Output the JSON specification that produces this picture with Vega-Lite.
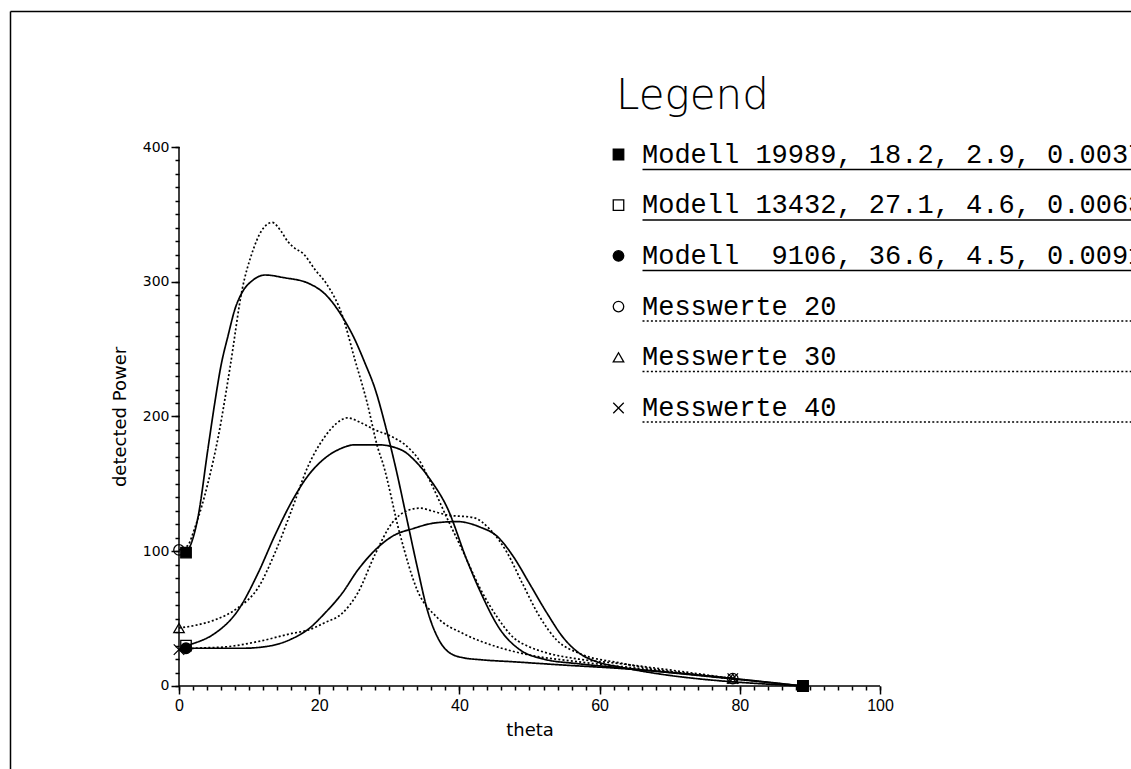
{
  "$schema": "https://vega.github.io/schema/vega-lite/v6.json",
  "width": 1121,
  "height": 758,
  "autosize": {"type": "none"},
  "padding": {"left": 10, "top": 11, "right": 0, "bottom": 0},
  "background": "white",
  "config": {
    "view": {"stroke": null},
    "axis": {"grid": false, "domainColor": "black", "domainWidth": 1.5, "tickColor": "black", "tickWidth": 1.5, "labelColor": "black", "titleColor": "black"}
  },
  "datasets": {
    "curves": [
      {"series": "Modell 19989, 18.2, 2.9, 0.0037", "theta": 1, "power": 99},
      {"series": "Modell 19989, 18.2, 2.9, 0.0037", "theta": 1.6, "power": 104},
      {"series": "Modell 19989, 18.2, 2.9, 0.0037", "theta": 2.7, "power": 125},
      {"series": "Modell 19989, 18.2, 2.9, 0.0037", "theta": 4.1, "power": 175},
      {"series": "Modell 19989, 18.2, 2.9, 0.0037", "theta": 5.1, "power": 210},
      {"series": "Modell 19989, 18.2, 2.9, 0.0037", "theta": 6, "power": 238},
      {"series": "Modell 19989, 18.2, 2.9, 0.0037", "theta": 7, "power": 260},
      {"series": "Modell 19989, 18.2, 2.9, 0.0037", "theta": 8, "power": 280},
      {"series": "Modell 19989, 18.2, 2.9, 0.0037", "theta": 9, "power": 292},
      {"series": "Modell 19989, 18.2, 2.9, 0.0037", "theta": 10.5, "power": 301},
      {"series": "Modell 19989, 18.2, 2.9, 0.0037", "theta": 12.3, "power": 305},
      {"series": "Modell 19989, 18.2, 2.9, 0.0037", "theta": 15, "power": 303},
      {"series": "Modell 19989, 18.2, 2.9, 0.0037", "theta": 18.4, "power": 299},
      {"series": "Modell 19989, 18.2, 2.9, 0.0037", "theta": 21, "power": 290},
      {"series": "Modell 19989, 18.2, 2.9, 0.0037", "theta": 23.3, "power": 274},
      {"series": "Modell 19989, 18.2, 2.9, 0.0037", "theta": 25, "power": 258},
      {"series": "Modell 19989, 18.2, 2.9, 0.0037", "theta": 26.5, "power": 240},
      {"series": "Modell 19989, 18.2, 2.9, 0.0037", "theta": 28, "power": 220},
      {"series": "Modell 19989, 18.2, 2.9, 0.0037", "theta": 29.5, "power": 192},
      {"series": "Modell 19989, 18.2, 2.9, 0.0037", "theta": 31, "power": 160},
      {"series": "Modell 19989, 18.2, 2.9, 0.0037", "theta": 32.5, "power": 124},
      {"series": "Modell 19989, 18.2, 2.9, 0.0037", "theta": 34, "power": 88},
      {"series": "Modell 19989, 18.2, 2.9, 0.0037", "theta": 35.5, "power": 55},
      {"series": "Modell 19989, 18.2, 2.9, 0.0037", "theta": 37, "power": 35},
      {"series": "Modell 19989, 18.2, 2.9, 0.0037", "theta": 38.5, "power": 25},
      {"series": "Modell 19989, 18.2, 2.9, 0.0037", "theta": 40.5, "power": 21},
      {"series": "Modell 19989, 18.2, 2.9, 0.0037", "theta": 43, "power": 19.5},
      {"series": "Modell 19989, 18.2, 2.9, 0.0037", "theta": 47.6, "power": 18},
      {"series": "Modell 19989, 18.2, 2.9, 0.0037", "theta": 55, "power": 15.5},
      {"series": "Modell 19989, 18.2, 2.9, 0.0037", "theta": 63, "power": 13},
      {"series": "Modell 19989, 18.2, 2.9, 0.0037", "theta": 89, "power": 0},

      {"series": "Modell 13432, 27.1, 4.6, 0.0063", "theta": 1, "power": 30},
      {"series": "Modell 13432, 27.1, 4.6, 0.0063", "theta": 2.3, "power": 32},
      {"series": "Modell 13432, 27.1, 4.6, 0.0063", "theta": 5.1, "power": 39},
      {"series": "Modell 13432, 27.1, 4.6, 0.0063", "theta": 8.4, "power": 56},
      {"series": "Modell 13432, 27.1, 4.6, 0.0063", "theta": 11.3, "power": 84},
      {"series": "Modell 13432, 27.1, 4.6, 0.0063", "theta": 13.7, "power": 112},
      {"series": "Modell 13432, 27.1, 4.6, 0.0063", "theta": 16.1, "power": 137},
      {"series": "Modell 13432, 27.1, 4.6, 0.0063", "theta": 18.4, "power": 156},
      {"series": "Modell 13432, 27.1, 4.6, 0.0063", "theta": 20.8, "power": 169},
      {"series": "Modell 13432, 27.1, 4.6, 0.0063", "theta": 23, "power": 176},
      {"series": "Modell 13432, 27.1, 4.6, 0.0063", "theta": 25.1, "power": 179},
      {"series": "Modell 13432, 27.1, 4.6, 0.0063", "theta": 28.4, "power": 179},
      {"series": "Modell 13432, 27.1, 4.6, 0.0063", "theta": 31.8, "power": 175},
      {"series": "Modell 13432, 27.1, 4.6, 0.0063", "theta": 33.5, "power": 168},
      {"series": "Modell 13432, 27.1, 4.6, 0.0063", "theta": 36, "power": 152},
      {"series": "Modell 13432, 27.1, 4.6, 0.0063", "theta": 38.2, "power": 133},
      {"series": "Modell 13432, 27.1, 4.6, 0.0063", "theta": 41.1, "power": 93},
      {"series": "Modell 13432, 27.1, 4.6, 0.0063", "theta": 42.9, "power": 71},
      {"series": "Modell 13432, 27.1, 4.6, 0.0063", "theta": 45.8, "power": 42},
      {"series": "Modell 13432, 27.1, 4.6, 0.0063", "theta": 48.6, "power": 27},
      {"series": "Modell 13432, 27.1, 4.6, 0.0063", "theta": 52, "power": 20},
      {"series": "Modell 13432, 27.1, 4.6, 0.0063", "theta": 57, "power": 16.5},
      {"series": "Modell 13432, 27.1, 4.6, 0.0063", "theta": 63, "power": 13.5},
      {"series": "Modell 13432, 27.1, 4.6, 0.0063", "theta": 89, "power": 0},

      {"series": "Modell\u00a0\u00a09106, 36.6, 4.5, 0.0091", "theta": 1, "power": 28},
      {"series": "Modell\u00a0\u00a09106, 36.6, 4.5, 0.0091", "theta": 4.1, "power": 28},
      {"series": "Modell\u00a0\u00a09106, 36.6, 4.5, 0.0091", "theta": 9, "power": 28},
      {"series": "Modell\u00a0\u00a09106, 36.6, 4.5, 0.0091", "theta": 12.7, "power": 29.5},
      {"series": "Modell\u00a0\u00a09106, 36.6, 4.5, 0.0091", "theta": 16.1, "power": 35},
      {"series": "Modell\u00a0\u00a09106, 36.6, 4.5, 0.0091", "theta": 18.4, "power": 42},
      {"series": "Modell\u00a0\u00a09106, 36.6, 4.5, 0.0091", "theta": 20.8, "power": 54},
      {"series": "Modell\u00a0\u00a09106, 36.6, 4.5, 0.0091", "theta": 23.3, "power": 69},
      {"series": "Modell\u00a0\u00a09106, 36.6, 4.5, 0.0091", "theta": 25.5, "power": 86},
      {"series": "Modell\u00a0\u00a09106, 36.6, 4.5, 0.0091", "theta": 28, "power": 101},
      {"series": "Modell\u00a0\u00a09106, 36.6, 4.5, 0.0091", "theta": 30.4, "power": 111},
      {"series": "Modell\u00a0\u00a09106, 36.6, 4.5, 0.0091", "theta": 33.5, "power": 117},
      {"series": "Modell\u00a0\u00a09106, 36.6, 4.5, 0.0091", "theta": 36.5, "power": 121},
      {"series": "Modell\u00a0\u00a09106, 36.6, 4.5, 0.0091", "theta": 39.7, "power": 122},
      {"series": "Modell\u00a0\u00a09106, 36.6, 4.5, 0.0091", "theta": 42.9, "power": 118},
      {"series": "Modell\u00a0\u00a09106, 36.6, 4.5, 0.0091", "theta": 45.4, "power": 111},
      {"series": "Modell\u00a0\u00a09106, 36.6, 4.5, 0.0091", "theta": 47.7, "power": 96},
      {"series": "Modell\u00a0\u00a09106, 36.6, 4.5, 0.0091", "theta": 50, "power": 76},
      {"series": "Modell\u00a0\u00a09106, 36.6, 4.5, 0.0091", "theta": 52.5, "power": 54},
      {"series": "Modell\u00a0\u00a09106, 36.6, 4.5, 0.0091", "theta": 54.8, "power": 36},
      {"series": "Modell\u00a0\u00a09106, 36.6, 4.5, 0.0091", "theta": 57.2, "power": 24},
      {"series": "Modell\u00a0\u00a09106, 36.6, 4.5, 0.0091", "theta": 59.6, "power": 18},
      {"series": "Modell\u00a0\u00a09106, 36.6, 4.5, 0.0091", "theta": 63, "power": 14},
      {"series": "Modell\u00a0\u00a09106, 36.6, 4.5, 0.0091", "theta": 89, "power": 0},

      {"series": "Messwerte 20", "theta": 0, "power": 101},
      {"series": "Messwerte 20", "theta": 1.2, "power": 104},
      {"series": "Messwerte 20", "theta": 2.3, "power": 118},
      {"series": "Messwerte 20", "theta": 4.1, "power": 150},
      {"series": "Messwerte 20", "theta": 5.6, "power": 185},
      {"series": "Messwerte 20", "theta": 7.3, "power": 237},
      {"series": "Messwerte 20", "theta": 9, "power": 294},
      {"series": "Messwerte 20", "theta": 10.4, "power": 321},
      {"series": "Messwerte 20", "theta": 11.8, "power": 338},
      {"series": "Messwerte 20", "theta": 13.3, "power": 344},
      {"series": "Messwerte 20", "theta": 14.5, "power": 338},
      {"series": "Messwerte 20", "theta": 15.5, "power": 330},
      {"series": "Messwerte 20", "theta": 16.5, "power": 325},
      {"series": "Messwerte 20", "theta": 17.7, "power": 321},
      {"series": "Messwerte 20", "theta": 19.4, "power": 309},
      {"series": "Messwerte 20", "theta": 21.1, "power": 298},
      {"series": "Messwerte 20", "theta": 23.3, "power": 275},
      {"series": "Messwerte 20", "theta": 25.1, "power": 242},
      {"series": "Messwerte 20", "theta": 26.8, "power": 211},
      {"series": "Messwerte 20", "theta": 28.4, "power": 176},
      {"series": "Messwerte 20", "theta": 29.1, "power": 165},
      {"series": "Messwerte 20", "theta": 31.5, "power": 113},
      {"series": "Messwerte 20", "theta": 34, "power": 71},
      {"series": "Messwerte 20", "theta": 36.8, "power": 51},
      {"series": "Messwerte 20", "theta": 40.5, "power": 39},
      {"series": "Messwerte 20", "theta": 45.4, "power": 29},
      {"series": "Messwerte 20", "theta": 50, "power": 23},
      {"series": "Messwerte 20", "theta": 57, "power": 18},
      {"series": "Messwerte 20", "theta": 63, "power": 14.5},
      {"series": "Messwerte 20", "theta": 79, "power": 5.5},

      {"series": "Messwerte 30", "theta": 0, "power": 43},
      {"series": "Messwerte 30", "theta": 2.3, "power": 45},
      {"series": "Messwerte 30", "theta": 5.1, "power": 49},
      {"series": "Messwerte 30", "theta": 8.4, "power": 58},
      {"series": "Messwerte 30", "theta": 11.3, "power": 73},
      {"series": "Messwerte 30", "theta": 13.7, "power": 99},
      {"series": "Messwerte 30", "theta": 16.1, "power": 131},
      {"series": "Messwerte 30", "theta": 18.4, "power": 163},
      {"series": "Messwerte 30", "theta": 20.8, "power": 185},
      {"series": "Messwerte 30", "theta": 22.5, "power": 195},
      {"series": "Messwerte 30", "theta": 24, "power": 199},
      {"series": "Messwerte 30", "theta": 26.1, "power": 195},
      {"series": "Messwerte 30", "theta": 28, "power": 190},
      {"series": "Messwerte 30", "theta": 30.4, "power": 185},
      {"series": "Messwerte 30", "theta": 32.7, "power": 177},
      {"series": "Messwerte 30", "theta": 34.2, "power": 168},
      {"series": "Messwerte 30", "theta": 36, "power": 150},
      {"series": "Messwerte 30", "theta": 38.2, "power": 125},
      {"series": "Messwerte 30", "theta": 40.5, "power": 100},
      {"series": "Messwerte 30", "theta": 42.9, "power": 73},
      {"series": "Messwerte 30", "theta": 45.4, "power": 51},
      {"series": "Messwerte 30", "theta": 47.7, "power": 36},
      {"series": "Messwerte 30", "theta": 50, "power": 29},
      {"series": "Messwerte 30", "theta": 52.5, "power": 24.5},
      {"series": "Messwerte 30", "theta": 57, "power": 20},
      {"series": "Messwerte 30", "theta": 63, "power": 16.5},
      {"series": "Messwerte 30", "theta": 79, "power": 5.5},

      {"series": "Messwerte 40", "theta": 0, "power": 27},
      {"series": "Messwerte 40", "theta": 2.3, "power": 28},
      {"series": "Messwerte 40", "theta": 6.6, "power": 29},
      {"series": "Messwerte 40", "theta": 11.3, "power": 33},
      {"series": "Messwerte 40", "theta": 16.1, "power": 39},
      {"series": "Messwerte 40", "theta": 18.4, "power": 41.5},
      {"series": "Messwerte 40", "theta": 20.8, "power": 47},
      {"series": "Messwerte 40", "theta": 23.3, "power": 54},
      {"series": "Messwerte 40", "theta": 25.5, "power": 69},
      {"series": "Messwerte 40", "theta": 28, "power": 98},
      {"series": "Messwerte 40", "theta": 30.4, "power": 121},
      {"series": "Messwerte 40", "theta": 32.5, "power": 130},
      {"series": "Messwerte 40", "theta": 34.4, "power": 132},
      {"series": "Messwerte 40", "theta": 36, "power": 130},
      {"series": "Messwerte 40", "theta": 38.2, "power": 127},
      {"series": "Messwerte 40", "theta": 42, "power": 125},
      {"series": "Messwerte 40", "theta": 44.4, "power": 116},
      {"series": "Messwerte 40", "theta": 46.8, "power": 99},
      {"series": "Messwerte 40", "theta": 49, "power": 76},
      {"series": "Messwerte 40", "theta": 51.5, "power": 51},
      {"series": "Messwerte 40", "theta": 53.9, "power": 34},
      {"series": "Messwerte 40", "theta": 57.2, "power": 24},
      {"series": "Messwerte 40", "theta": 63, "power": 17},
      {"series": "Messwerte 40", "theta": 79, "power": 5.5}
    ]
  },
  "resolve": {
    "axis": {"x": "independent", "y": "independent"},
    "legend": {"strokeDash": "independent"}
  },
  "layer": [
    {
      "description": "x axis line; its axes draw the outer frame (top and left edges)",
      "data": {"values": [{}]},
      "mark": {"type": "rule", "color": "black", "strokeWidth": 1.5},
      "encoding": {
        "x": {"datum": 0, "type": "quantitative",
              "scale": {"domain": [-24.108, 135.806], "nice": false, "zero": false},
              "axis": {"orient": "top", "offset": 0, "ticks": false, "labels": false, "title": null, "domainWidth": 1.5}},
        "x2": {"datum": 100},
        "y": {"datum": 0, "type": "quantitative",
              "scale": {"domain": [-61.6, 500.93], "nice": false, "zero": false},
              "axis": {"orient": "left", "offset": 0, "ticks": false, "labels": false, "title": null, "domainWidth": 1.5}}
      }
    },
    {
      "description": "y axis line with the major ticks and labels",
      "data": {"values": [{}]},
      "mark": {"type": "rule", "color": "black", "strokeWidth": 1.5},
      "encoding": {
        "x": {"datum": 0, "type": "quantitative",
              "scale": {"domain": [-24.108, 135.806], "nice": false, "zero": false},
              "axis": {"orient": "bottom", "offset": -83, "domain": false,
                       "values": [0, 20, 40, 60, 80, 100], "tickSize": 8,
                       "labelFont": "Liberation Sans Narrow, Liberation Sans", "labelFontSize": 16, "labelPadding": 3,
                       "title": "theta", "titleFont": "DejaVu Sans", "titleFontSize": 18, "titleFontWeight": "normal",
                       "titleX": 519.5, "titlePadding": 8}},
        "y": {"datum": 0, "type": "quantitative",
              "scale": {"domain": [-61.6, 500.93], "nice": false, "zero": false},
              "axis": {"orient": "left", "offset": -169, "domain": false,
                       "values": [0, 100, 200, 300, 400], "tickSize": 8,
                       "labelFont": "DejaVu Sans", "labelFontSize": 14, "labelPadding": 2,
                       "title": "detected Power", "titleFont": "DejaVu Sans", "titleFontSize": 18, "titleFontWeight": "normal",
                       "titleY": 405.5, "titlePadding": 13}},
        "y2": {"datum": 400}
      }
    },
    {
      "description": "model and measurement curves with the minor ticks",
      "data": {"name": "curves"},
      "mark": {"type": "line", "color": "black", "strokeWidth": 1.7, "interpolate": "monotone"},
      "encoding": {
        "x": {"field": "theta", "type": "quantitative",
              "scale": {"domain": [-24.108, 135.806], "nice": false, "zero": false},
              "axis": {"orient": "bottom", "offset": -83, "domain": false, "labels": false, "title": null, "tickSize": 4,
                       "values": [0, 2, 4, 6, 8, 10, 12, 14, 16, 18, 20, 22, 24, 26, 28, 30, 32, 34, 36, 38, 40, 42, 44, 46, 48, 50, 52, 54, 56, 58, 60, 62, 64, 66, 68, 70, 72, 74, 76, 78, 80, 82, 84, 86, 88, 90, 92, 94, 96, 98, 100]}},
        "y": {"field": "power", "type": "quantitative",
              "scale": {"domain": [-61.6, 500.93], "nice": false, "zero": false},
              "axis": {"orient": "left", "offset": -169, "domain": false, "labels": false, "title": null, "tickSize": 4,
                       "values": [0, 10, 20, 30, 40, 50, 60, 70, 80, 90, 100, 110, 120, 130, 140, 150, 160, 170, 180, 190, 200, 210, 220, 230, 240, 250, 260, 270, 280, 290, 300, 310, 320, 330, 340, 350, 360, 370, 380, 390, 400]}},
        "strokeDash": {
          "field": "series", "type": "nominal",
          "scale": {
            "domain": ["Modell 19989, 18.2, 2.9, 0.0037", "Modell 13432, 27.1, 4.6, 0.0063", "Modell\u00a0\u00a09106, 36.6, 4.5, 0.0091", "Messwerte 20", "Messwerte 30", "Messwerte 40"],
            "range": [[1, 0], [1, 0], [1, 0], [2, 2.2], [2, 2.2], [2, 2.2]]
          },
          "legend": {
            "orient": "none", "direction": "vertical", "legendX": 629, "legendY": 155,
            "title": null, "padding": 0, "labelExpr": "''", "labelFontSize": 1, "labelOffset": 0,
            "symbolType": "M0,0H200", "symbolSize": 25, "symbolStrokeWidth": 1.5,
            "symbolStrokeColor": "black", "symbolFillColor": "transparent", "rowPadding": 43.5
          }
        }
      }
    },
    {
      "description": "markers at the first and last point of every curve",
      "data": {"name": "curves"},
      "transform": [{"filter": "datum.theta <= 1 || datum.theta >= 79"}],
      "mark": {"type": "point", "strokeWidth": 1.3, "size": 110, "opacity": 1},
      "encoding": {
        "x": {"field": "theta", "type": "quantitative",
              "scale": {"domain": [-24.108, 135.806], "nice": false, "zero": false}, "axis": null},
        "y": {"field": "power", "type": "quantitative",
              "scale": {"domain": [-61.6, 500.93], "nice": false, "zero": false}, "axis": null},
        "shape": {
          "field": "series", "type": "nominal",
          "scale": {
            "domain": ["Modell 19989, 18.2, 2.9, 0.0037", "Modell 13432, 27.1, 4.6, 0.0063", "Modell\u00a0\u00a09106, 36.6, 4.5, 0.0091", "Messwerte 20", "Messwerte 30", "Messwerte 40"],
            "range": ["square", "square", "circle", "circle", "triangle-up", "M-1,-1L1,1M-1,1L1,-1"]
          },
          "legend": {
            "orient": "none", "direction": "vertical", "legendX": 606, "legendY": 65,
            "title": "Legend", "titleFont": "DejaVu Sans", "titleFontSize": 42, "titleFontWeight": 200, "titleColor": "black",
            "titlePadding": 23, "padding": 0,
            "labelFont": "Liberation Mono", "labelFontSize": 27, "labelColor": "black", "labelLimit": 3000, "labelOffset": 10,
            "symbolSize": 110, "symbolOffset": -11, "symbolStrokeWidth": 1.3, "rowPadding": 22.7
          }
        },
        "stroke": {
          "field": "series", "type": "nominal",
          "scale": {
            "domain": ["Modell 19989, 18.2, 2.9, 0.0037", "Modell 13432, 27.1, 4.6, 0.0063", "Modell\u00a0\u00a09106, 36.6, 4.5, 0.0091", "Messwerte 20", "Messwerte 30", "Messwerte 40"],
            "range": ["black", "black", "black", "black", "black", "black"]
          }
        },
        "fill": {
          "field": "series", "type": "nominal",
          "scale": {
            "domain": ["Modell 19989, 18.2, 2.9, 0.0037", "Modell 13432, 27.1, 4.6, 0.0063", "Modell\u00a0\u00a09106, 36.6, 4.5, 0.0091", "Messwerte 20", "Messwerte 30", "Messwerte 40"],
            "range": ["black", "transparent", "black", "transparent", "transparent", "transparent"]
          }
        }
      }
    }
  ]
}
